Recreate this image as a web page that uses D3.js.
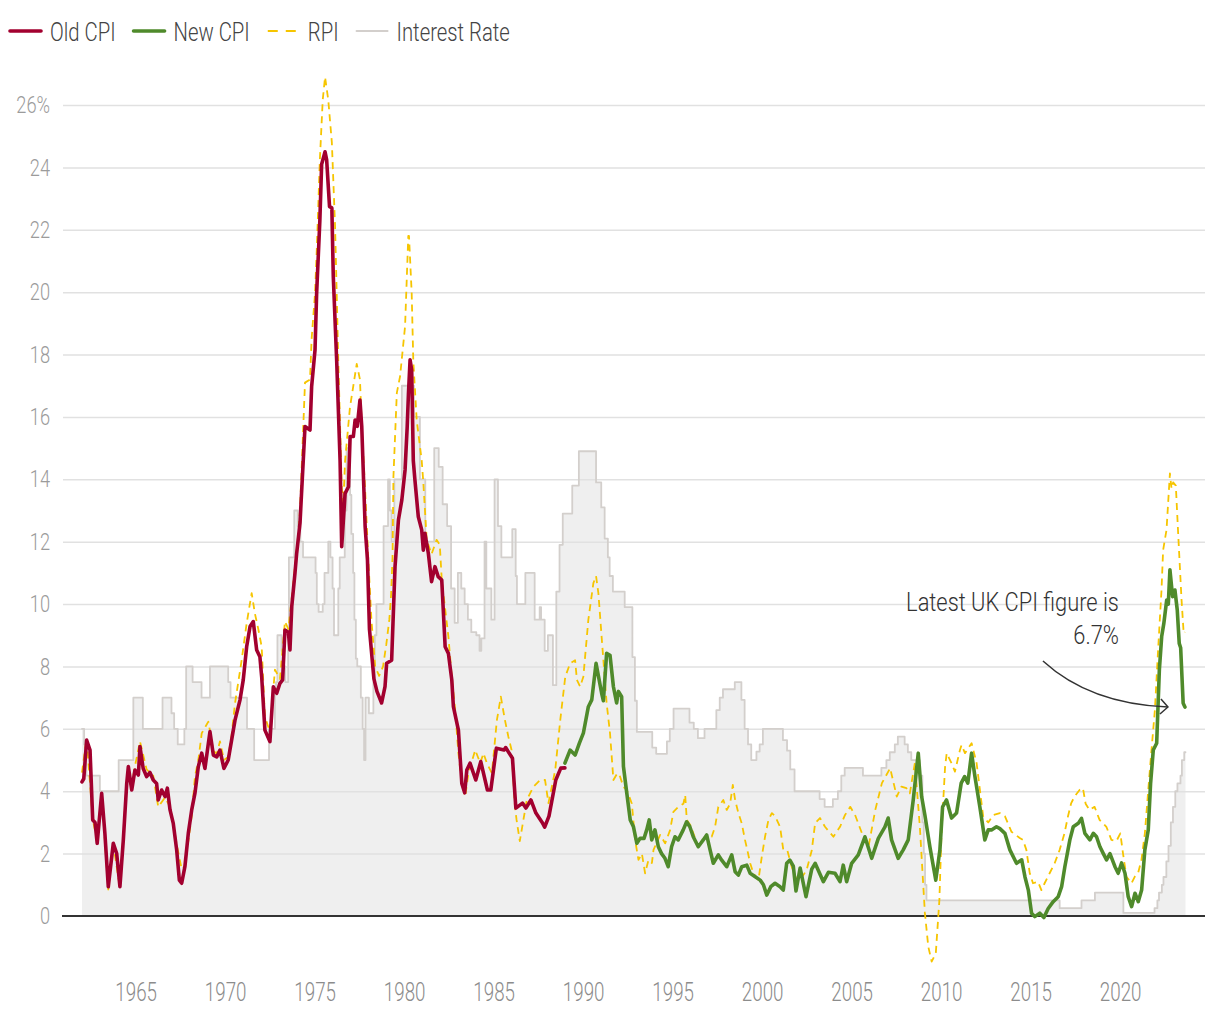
<!DOCTYPE html>
<html><head><meta charset="utf-8">
<script src="https://cdn.jsdelivr.net/npm/d3@7"></script>
<style>
body{margin:0;background:#fff;}
svg text{font-family:Roboto,"Liberation Sans Narrow","DejaVu Sans Condensed",sans-serif;font-weight:300;}
</style></head><body>
<svg id="chart" width="1220" height="1020"></svg>
<script>
// ---- Data: [decimal year, % value] ----
const oldCpi = [[1962.00,4.3],[1962.10,4.4],[1962.26,5.64],[1962.45,5.32],[1962.60,3.08],[1962.73,3.0],[1962.85,2.33],[1963.10,3.93],[1963.28,2.65],[1963.47,0.94],[1963.75,2.33],[1963.94,2.0],[1964.12,0.94],[1964.31,2.44],[1964.50,4.25],[1964.59,4.79],[1964.78,4.04],[1964.96,4.68],[1965.15,4.52],[1965.24,5.43],[1965.42,4.73],[1965.61,4.47],[1965.80,4.6],[1965.98,4.36],[1966.17,4.25],[1966.26,3.72],[1966.45,4.04],[1966.64,3.83],[1966.77,4.1],[1966.92,3.4],[1967.10,2.97],[1967.29,2.12],[1967.44,1.15],[1967.57,1.05],[1967.75,1.58],[1967.94,2.65],[1968.13,3.4],[1968.31,3.93],[1968.50,4.79],[1968.69,5.22],[1968.87,4.73],[1969.15,5.91],[1969.34,5.16],[1969.53,5.1],[1969.71,5.32],[1969.93,4.73],[1970.17,5.0],[1970.36,5.64],[1970.55,6.28],[1970.83,6.93],[1971.01,7.57],[1971.20,8.63],[1971.39,9.28],[1971.57,9.44],[1971.76,8.53],[1971.94,8.31],[1972.04,7.67],[1972.22,5.96],[1972.50,5.59],[1972.69,7.35],[1972.88,7.14],[1973.06,7.46],[1973.21,7.57],[1973.34,9.17],[1973.53,9.1],[1973.62,8.53],[1973.72,9.92],[1973.90,10.99],[1973.99,11.6],[1974.18,12.59],[1974.46,15.69],[1974.74,15.58],[1974.83,16.97],[1975.02,18.15],[1975.11,19.97],[1975.29,22.3],[1975.39,24.1],[1975.58,24.5],[1975.67,24.24],[1975.83,22.74],[1975.96,22.7],[1976.04,20.5],[1976.23,17.8],[1976.42,14.6],[1976.51,11.84],[1976.70,13.55],[1976.89,13.76],[1976.98,15.37],[1977.16,15.37],[1977.26,15.9],[1977.38,15.7],[1977.53,16.54],[1977.63,15.7],[1977.82,12.48],[1977.95,11.41],[1978.06,9.2],[1978.17,8.5],[1978.31,7.6],[1978.48,7.2],[1978.74,6.83],[1978.93,7.35],[1979.02,8.1],[1979.30,8.2],[1979.49,11.2],[1979.68,12.7],[1979.87,13.34],[1980.05,14.3],[1980.17,15.69],[1980.24,16.76],[1980.33,17.83],[1980.42,17.5],[1980.51,14.6],[1980.60,13.98],[1980.79,12.8],[1980.98,12.38],[1981.07,11.73],[1981.16,12.27],[1981.35,11.63],[1981.53,10.72],[1981.72,11.2],[1981.90,10.88],[1982.10,10.77],[1982.29,8.63],[1982.47,8.42],[1982.66,7.57],[1982.75,6.71],[1983.03,5.96],[1983.22,4.25],[1983.38,3.95],[1983.50,4.68],[1983.68,4.9],[1984.00,4.36],[1984.28,4.95],[1984.65,4.04],[1984.84,4.04],[1985.15,5.38],[1985.58,5.32],[1985.67,5.4],[1986.05,5.06],[1986.24,3.46],[1986.61,3.62],[1986.80,3.46],[1987.08,3.72],[1987.36,3.3],[1987.71,3.0],[1987.85,2.85],[1988.09,3.2],[1988.47,4.36],[1988.75,4.74],[1988.98,4.75]];

const newCpi = [[1988.98,4.9],[1989.27,5.32],[1989.55,5.16],[1989.79,5.54],[1990.01,5.86],[1990.29,6.71],[1990.48,6.93],[1990.72,8.1],[1991.03,7.15],[1991.13,6.9],[1991.31,8.42],[1991.50,8.36],[1991.69,7.35],[1991.87,6.83],[1991.97,7.2],[1992.15,7.03],[1992.25,4.79],[1992.44,3.93],[1992.63,3.08],[1992.81,2.86],[1993.00,2.33],[1993.18,2.49],[1993.40,2.49],[1993.55,2.76],[1993.69,3.08],[1993.83,2.44],[1994.01,2.76],[1994.20,2.22],[1994.38,2.0],[1994.57,1.85],[1994.75,1.58],[1994.94,2.22],[1995.13,2.54],[1995.31,2.44],[1995.59,2.76],[1995.78,3.02],[1995.96,2.86],[1996.15,2.54],[1996.43,2.22],[1996.71,2.44],[1996.90,2.6],[1997.09,2.12],[1997.27,1.69],[1997.55,1.96],[1997.74,1.79],[1998.02,1.58],[1998.30,1.96],[1998.49,1.42],[1998.67,1.31],[1998.86,1.58],[1999.14,1.63],[1999.33,1.37],[1999.61,1.26],[1999.89,1.15],[2000.07,1.0],[2000.26,0.67],[2000.48,0.94],[2000.72,1.05],[2001.00,0.94],[2001.18,0.83],[2001.37,1.69],[2001.55,1.79],[2001.74,1.6],[2001.89,0.8],[2002.12,1.54],[2002.45,0.62],[2002.77,1.5],[2002.96,1.69],[2003.42,1.1],[2003.70,1.4],[2004.07,1.37],[2004.35,1.1],[2004.53,1.63],[2004.72,1.1],[2005.00,1.69],[2005.37,1.96],[2005.74,2.54],[2006.12,1.85],[2006.49,2.49],[2006.86,2.86],[2007.04,3.14],[2007.23,2.44],[2007.60,1.85],[2007.88,2.12],[2008.16,2.44],[2008.44,3.72],[2008.72,5.22],[2008.91,3.83],[2009.09,3.24],[2009.37,2.22],[2009.70,1.15],[2009.93,2.12],[2010.08,3.5],[2010.30,3.72],[2010.58,3.14],[2010.86,3.3],[2011.12,4.26],[2011.31,4.47],[2011.49,4.26],[2011.70,5.22],[2011.88,4.5],[2012.16,3.5],[2012.44,2.44],[2012.63,2.76],[2012.81,2.76],[2013.09,2.86],[2013.28,2.8],[2013.56,2.65],[2013.84,2.12],[2014.21,1.69],[2014.50,1.8],[2014.68,1.26],[2014.87,0.83],[2015.05,0.09],[2015.23,-0.02],[2015.51,0.09],[2015.74,-0.05],[2015.98,0.24],[2016.26,0.46],[2016.54,0.62],[2016.73,0.94],[2016.91,1.58],[2017.19,2.44],[2017.38,2.86],[2017.66,2.97],[2017.84,3.13],[2018.03,2.65],[2018.31,2.44],[2018.50,2.65],[2018.68,2.54],[2018.87,2.22],[2019.06,2.0],[2019.24,1.8],[2019.43,2.0],[2019.71,1.58],[2019.89,1.37],[2020.08,1.7],[2020.27,1.37],[2020.45,0.62],[2020.64,0.3],[2020.83,0.73],[2021.01,0.46],[2021.20,0.83],[2021.38,2.12],[2021.57,2.76],[2021.70,4.25],[2021.85,5.32],[2022.04,5.54],[2022.19,7.89],[2022.32,8.96],[2022.44,9.38],[2022.60,10.13],[2022.69,10.0],[2022.78,11.1],[2022.93,10.24],[2023.06,10.45],[2023.19,9.81],[2023.30,8.74],[2023.38,8.6],[2023.52,6.82],[2023.62,6.7]];

const rpi = [[1962.00,4.6],[1962.26,5.7],[1962.60,3.1],[1962.85,2.4],[1963.10,3.9],[1963.47,0.85],[1963.75,2.3],[1964.12,0.9],[1964.50,4.3],[1964.78,4.2],[1964.96,4.8],[1965.24,5.6],[1965.61,4.7],[1965.98,4.5],[1966.26,3.5],[1966.64,3.8],[1966.92,3.5],[1967.29,2.3],[1967.57,1.5],[1967.75,1.6],[1968.13,3.2],[1968.31,4.47],[1968.50,5.0],[1968.69,5.86],[1969.06,6.23],[1969.34,5.3],[1969.53,5.2],[1969.71,5.6],[1969.93,5.0],[1970.17,5.1],[1970.36,5.8],[1970.55,6.82],[1970.92,8.2],[1971.20,9.38],[1971.48,10.35],[1971.66,9.7],[1971.85,9.2],[1972.04,8.63],[1972.22,6.4],[1972.50,5.9],[1972.78,7.9],[1973.06,7.6],[1973.34,9.44],[1973.53,9.2],[1973.72,10.2],[1973.90,11.2],[1974.08,12.2],[1974.18,13.0],[1974.46,17.1],[1974.74,17.2],[1974.83,18.5],[1975.02,19.97],[1975.11,21.25],[1975.29,24.24],[1975.45,26.16],[1975.58,26.9],[1975.76,26.16],[1975.96,24.8],[1976.14,22.1],[1976.23,19.97],[1976.32,17.8],[1976.42,15.7],[1976.51,13.76],[1976.60,13.2],[1976.70,14.6],[1976.97,16.3],[1977.35,17.7],[1977.53,17.2],[1977.63,15.7],[1977.82,13.66],[1978.00,11.4],[1978.17,9.5],[1978.38,8.0],[1978.60,7.7],[1978.82,8.0],[1979.00,8.7],[1979.17,9.5],[1979.27,10.3],[1979.35,11.5],[1979.40,14.08],[1979.59,16.77],[1979.77,17.3],[1980.05,18.9],[1980.23,21.8],[1980.27,21.8],[1980.42,19.97],[1980.51,17.8],[1980.70,15.9],[1980.98,14.6],[1981.07,13.9],[1981.26,12.06],[1981.53,11.6],[1981.81,12.06],[1981.99,11.9],[1982.10,10.77],[1982.47,8.96],[1982.66,7.67],[1982.85,6.6],[1983.03,5.22],[1983.22,4.26],[1983.41,3.83],[1983.59,4.58],[1983.97,5.32],[1984.25,4.9],[1984.43,5.22],[1984.62,4.9],[1984.90,4.58],[1985.18,6.28],[1985.40,7.03],[1985.63,6.28],[1985.82,5.75],[1986.00,5.32],[1986.19,3.5],[1986.28,3.08],[1986.46,2.4],[1986.85,3.72],[1987.22,4.14],[1987.60,4.36],[1987.87,4.36],[1988.06,3.62],[1988.44,4.68],[1988.72,6.28],[1989.00,7.67],[1989.27,8.1],[1989.55,8.2],[1989.65,7.57],[1989.83,7.35],[1990.01,7.67],[1990.29,9.5],[1990.57,10.67],[1990.72,10.9],[1990.85,10.35],[1991.03,8.96],[1991.31,6.83],[1991.50,5.86],[1991.69,4.36],[1991.91,4.58],[1992.06,4.47],[1992.25,4.14],[1992.44,4.04],[1992.72,3.6],[1992.90,2.44],[1993.09,1.8],[1993.28,2.0],[1993.46,1.37],[1993.65,1.8],[1993.84,1.7],[1993.93,2.12],[1994.30,2.6],[1994.58,2.33],[1994.86,2.76],[1995.04,3.34],[1995.32,3.5],[1995.60,3.6],[1995.70,3.88],[1995.79,3.08],[1996.00,2.9],[1996.43,2.22],[1996.80,2.54],[1997.18,2.54],[1997.37,2.86],[1997.55,3.5],[1997.83,3.72],[1998.02,3.4],[1998.21,3.6],[1998.36,4.2],[1998.49,3.72],[1998.67,3.3],[1998.86,2.97],[1999.04,2.44],[1999.17,2.12],[1999.33,1.69],[1999.51,1.37],[1999.79,1.15],[1999.98,1.9],[2000.16,2.54],[2000.35,3.08],[2000.54,3.3],[2000.72,3.2],[2001.00,2.86],[2001.18,2.12],[2001.41,2.1],[2001.65,1.58],[2001.93,1.15],[2002.12,1.15],[2002.48,1.47],[2002.77,2.1],[2002.96,2.98],[2003.23,3.14],[2003.51,2.86],[2003.98,2.54],[2004.35,2.86],[2004.63,3.24],[2004.92,3.5],[2005.19,3.24],[2005.57,2.66],[2005.94,2.22],[2006.32,3.4],[2006.69,4.26],[2007.15,4.74],[2007.52,3.83],[2007.78,4.15],[2008.06,4.1],[2008.25,3.93],[2008.53,4.9],[2008.81,2.86],[2009.09,0.1],[2009.28,-0.98],[2009.47,-1.46],[2009.70,-1.2],[2009.90,0.5],[2010.02,2.66],[2010.22,4.79],[2010.31,5.22],[2010.58,4.9],[2010.77,4.63],[2011.05,5.32],[2011.14,5.48],[2011.33,5.22],[2011.70,5.54],[2011.98,4.9],[2012.35,3.18],[2012.63,3.0],[2012.91,3.24],[2013.28,3.3],[2013.56,3.2],[2013.93,2.7],[2014.39,2.5],[2014.57,2.44],[2014.76,2.12],[2014.95,1.37],[2015.13,1.05],[2015.41,1.1],[2015.60,0.83],[2015.78,1.05],[2016.06,1.37],[2016.34,1.69],[2016.62,2.12],[2016.89,2.65],[2017.08,3.18],[2017.26,3.61],[2017.45,3.83],[2017.73,4.04],[2017.92,4.1],[2018.07,3.6],[2018.29,3.4],[2018.57,3.5],[2018.85,3.08],[2019.23,2.86],[2019.51,2.44],[2019.79,2.4],[2020.01,2.65],[2020.16,2.0],[2020.35,1.26],[2020.63,1.05],[2020.82,1.26],[2021.00,1.37],[2021.19,1.8],[2021.38,2.65],[2021.57,4.04],[2021.75,5.32],[2021.94,6.6],[2022.12,8.53],[2022.31,10.45],[2022.40,11.73],[2022.59,12.38],[2022.78,14.19],[2022.87,13.7],[2022.96,13.9],[2023.11,13.8],[2023.24,12.27],[2023.43,10.13],[2023.55,9.06],[2023.62,9.1]];

// Bank rate: [year of change, new level]
const interestRate = [[1962.00,6.0],[1962.12,5.5],[1962.25,4.5],[1963.00,4.0],[1964.05,5.0],[1964.87,7.0],[1965.40,6.0],[1966.50,7.0],[1967.00,6.5],[1967.15,6.0],[1967.35,5.5],[1967.72,6.0],[1967.82,8.0],[1968.18,7.5],[1968.68,7.0],[1969.15,8.0],[1970.17,7.5],[1970.30,7.0],[1971.22,6.0],[1971.62,5.0],[1972.45,6.0],[1972.78,7.25],[1972.84,7.5],[1972.92,9.0],[1973.15,8.5],[1973.28,8.0],[1973.36,7.5],[1973.52,9.0],[1973.56,11.5],[1973.86,13.0],[1974.05,12.5],[1974.20,12.0],[1974.35,11.5],[1975.05,11.0],[1975.12,10.0],[1975.22,9.75],[1975.45,10.0],[1975.55,11.0],[1975.76,12.0],[1975.88,11.5],[1976.00,10.5],[1976.08,9.0],[1976.32,10.5],[1976.40,11.5],[1976.68,13.0],[1976.78,15.0],[1976.90,14.25],[1976.98,13.5],[1977.05,12.25],[1977.15,11.0],[1977.22,9.5],[1977.30,8.25],[1977.38,8.0],[1977.58,7.0],[1977.68,6.0],[1977.76,5.0],[1977.84,7.0],[1978.03,6.5],[1978.28,7.5],[1978.36,9.0],[1978.45,10.0],[1978.85,12.5],[1979.10,14.0],[1979.20,13.0],[1979.30,12.0],[1979.45,14.0],[1979.87,17.0],[1980.55,16.0],[1980.88,14.0],[1981.18,12.0],[1981.68,15.0],[1981.93,14.4],[1982.15,13.2],[1982.40,12.5],[1982.62,10.5],[1982.82,9.4],[1983.00,11.0],[1983.19,10.5],[1983.38,10.0],[1983.56,9.5],[1983.75,9.1],[1984.03,9.0],[1984.21,8.5],[1984.31,8.9],[1984.49,12.0],[1984.59,10.5],[1984.87,9.5],[1985.05,14.0],[1985.24,12.5],[1985.43,11.5],[1986.04,12.4],[1986.23,10.9],[1986.30,10.0],[1986.77,11.0],[1987.29,9.5],[1987.57,9.9],[1987.65,9.5],[1987.85,8.5],[1988.03,9.0],[1988.31,7.4],[1988.50,10.4],[1988.68,11.9],[1988.86,12.9],[1989.39,13.8],[1989.76,14.9],[1990.72,13.9],[1991.01,13.1],[1991.20,12.1],[1991.38,11.5],[1991.48,10.9],[1991.66,10.4],[1992.32,9.9],[1992.75,8.3],[1992.89,6.9],[1993.00,5.9],[1993.86,5.4],[1994.08,5.2],[1994.68,5.6],[1994.84,6.0],[1995.05,6.65],[1995.94,6.2],[1996.18,6.0],[1996.41,5.7],[1996.78,6.0],[1997.44,6.6],[1997.63,7.0],[1997.81,7.27],[1998.47,7.5],[1998.84,6.93],[1999.02,6.0],[1999.21,5.5],[1999.39,5.0],[1999.68,5.27],[1999.86,5.5],[2000.04,6.0],[2001.16,5.64],[2001.39,5.3],[2001.57,4.7],[2001.81,4.0],[2003.21,3.75],[2003.49,3.5],[2003.95,3.75],[2004.23,4.0],[2004.42,4.5],[2004.61,4.75],[2005.63,4.5],[2006.66,4.75],[2006.94,5.0],[2007.13,5.25],[2007.41,5.5],[2007.58,5.75],[2007.96,5.5],[2008.14,5.25],[2008.33,5.0],[2008.80,4.5],[2008.95,3.0],[2009.03,2.0],[2009.10,1.0],[2009.18,0.5],[2016.62,0.25],[2017.84,0.5],[2018.59,0.75],[2020.18,0.1],[2021.92,0.25],[2022.08,0.5],[2022.17,0.75],[2022.33,1.0],[2022.42,1.25],[2022.58,1.75],[2022.70,2.25],[2022.83,3.0],[2022.95,3.5],[2023.08,4.0],[2023.20,4.25],[2023.37,4.5],[2023.45,5.0],[2023.58,5.25],[2023.65,5.25]];

const yTicks = [0,2,4,6,8,10,12,14,16,18,20,22,24,26];
const xTicks = [1965,1970,1975,1980,1985,1990,1995,2000,2005,2010,2015,2020];
const legendItems = [
  {label:"Old CPI", key:"old"},
  {label:"New CPI", key:"new"},
  {label:"RPI", key:"rpi"},
  {label:"Interest Rate", key:"rate"}
];
const annotationLines = ["Latest UK CPI figure is", "6.7%"];

// ---- Styles ----
const styles = {
  old:  {stroke:"#a2002f", width:3.6, dash:null},
  new:  {stroke:"#4f8a2b", width:3.6, dash:null},
  rpi:  {stroke:"#f6c500", width:1.8, dash:"7,5"},
  rate: {stroke:"#d3cfcc", width:1.8, dash:null}
};

// squeeze text horizontally to imitate a condensed face; returns new width
function condense(sel, k) {
  let out = 0;
  sel.each(function() {
    const w = this.getComputedTextLength() * k;
    d3.select(this).attr("textLength", w).attr("lengthAdjust", "spacingAndGlyphs");
    out = w;
  });
  return out;
}

const svg = d3.select("#chart");
const L = 63, R = 1205;
const x = d3.scaleLinear().domain([1960.94, 2024.74]).range([L, R]);
const y = d3.scaleLinear().domain([0, 26]).range([916, 105]);

// Interest rate area
const area = d3.area().curve(d3.curveStepAfter)
  .x(d => x(d[0])).y0(y(0)).y1(d => y(d[1]));
svg.append("path").datum(interestRate).attr("d", area).attr("fill", "#efefef");

// Y axis with gridlines
const yAxis = d3.axisLeft(y).tickValues(yTicks).tickSize(-(R - L)).tickPadding(13)
  .tickFormat(d => d === 26 ? "26%" : d);
const gy = svg.append("g").attr("transform", `translate(${L},0)`).call(yAxis);
gy.select(".domain").remove();
gy.selectAll(".tick line").attr("stroke", d => d === 0 ? "none" : "#e1e1e1").attr("stroke-width", 1.5);
gy.selectAll(".tick text").attr("fill", "#9b9b9b").attr("font-size", 24).attr("font-family", null);
condense(gy.selectAll(".tick text"), 0.76);

// X axis labels
const xAxis = d3.axisBottom(x).tickValues(xTicks).tickSize(0).tickPadding(67).tickFormat(d3.format("d"));
const gx = svg.append("g").attr("transform", `translate(0,${y(0)})`).call(xAxis);
gx.select(".domain").remove();
gx.selectAll(".tick text").attr("fill", "#8c8c8c").attr("font-size", 25).attr("font-family", null);
condense(gx.selectAll(".tick text"), 0.75);

// zero baseline
svg.append("line").attr("x1", L - 1).attr("x2", R).attr("y1", y(0)).attr("y2", y(0))
  .attr("stroke", "#333").attr("stroke-width", 2);

// Lines
const stepLine = d3.line().curve(d3.curveStepAfter).x(d => x(d[0])).y(d => y(d[1]));
const line = d3.line().x(d => x(d[0])).y(d => y(d[1]));
function draw(data, key, gen) {
  const s = styles[key];
  svg.append("path").datum(data).attr("d", gen).attr("fill", "none")
    .attr("stroke", s.stroke).attr("stroke-width", s.width)
    .attr("stroke-dasharray", s.dash).attr("stroke-linejoin", "round").attr("stroke-linecap", s.dash ? "butt" : "round");
}
draw(interestRate, "rate", stepLine);
draw(rpi, "rpi", line);
draw(oldCpi, "old", line);
draw(newCpi, "new", line);

// Legend
const lg = svg.append("g");
let lx = 10;
legendItems.forEach(it => {
  const s = styles[it.key];
  lg.append("line").attr("x1", lx).attr("x2", lx + 31).attr("y1", 31).attr("y2", 31)
    .attr("stroke", s.stroke).attr("stroke-width", it.key === "rpi" || it.key === "rate" ? 2 : 3.6)
    .attr("stroke-dasharray", it.key === "rpi" ? "10,8" : null)
    .attr("stroke-linecap", it.key === "rpi" ? "butt" : "round");
  const t = lg.append("text").attr("x", lx + 40).attr("y", 41).attr("font-size", 26)
    .attr("fill", "#444").text(it.label);
  const w = condense(t, 0.78);
  lx = lx + 40 + w + 18;
});

// Annotation
const last = newCpi[newCpi.length - 1];
const tipX = x(last[0]) - 17, tipY = y(last[1]);
const ann = svg.append("g");
annotationLines.forEach((t, i) => {
  const tx = ann.append("text").attr("x", tipX - 49).attr("y", tipY - 96 + i * 33)
    .attr("text-anchor", "end").attr("font-size", 26).attr("fill", "#333").text(t);
  condense(tx, 0.84);
});
ann.append("path")
  .attr("d", `M${tipX - 125},${tipY - 46} Q${tipX - 78},${tipY - 3} ${tipX},${tipY}`)
  .attr("fill", "none").attr("stroke", "#333").attr("stroke-width", 1.5);
ann.append("path")
  .attr("d", `M${tipX - 7},${tipY - 8} L${tipX},${tipY} L${tipX - 8},${tipY + 7}`)
  .attr("fill", "none").attr("stroke", "#333").attr("stroke-width", 1.5);
</script>
</body></html>
